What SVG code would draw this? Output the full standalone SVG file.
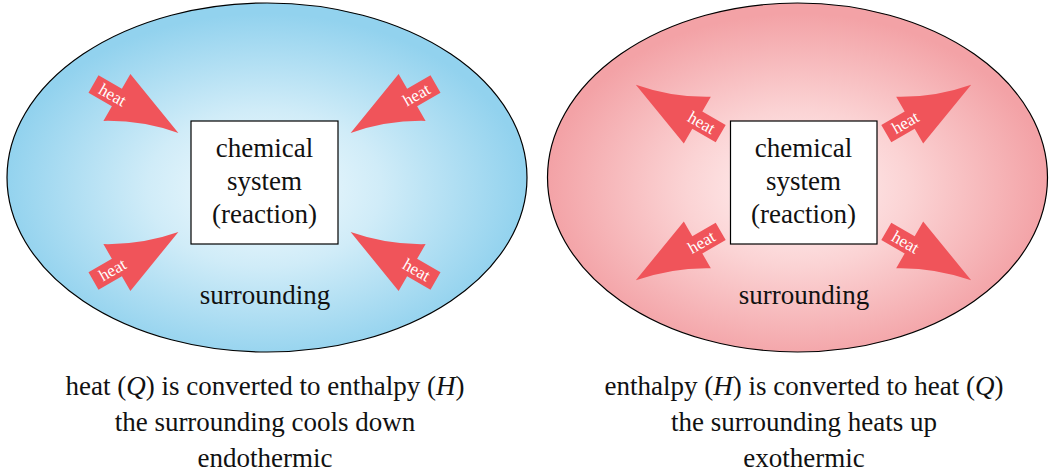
<svg xmlns="http://www.w3.org/2000/svg" width="1050" height="474" viewBox="0 0 1050 474">
<defs>
<radialGradient id="gBlue" cx="0.495" cy="0.53" r="0.5">
<stop offset="0" stop-color="#f4fbfe"/>
<stop offset="0.45" stop-color="#d0ecf8"/>
<stop offset="1" stop-color="#92d2ee"/>
</radialGradient>
<radialGradient id="gRed" cx="0.5" cy="0.53" r="0.5">
<stop offset="0" stop-color="#fff4f4"/>
<stop offset="0.45" stop-color="#fbd3d4"/>
<stop offset="1" stop-color="#f3a2a6"/>
</radialGradient>
<path id="arrow" d="M0,-10 L27,-10 L27,-27 L98,0 Q60,7 27,27 L27,10 L0,10 Z"/>
</defs>
<style>
.ell{stroke:#000;stroke-width:1.2}
.box{fill:#fff;stroke:#000;stroke-width:1.2}
.arr{fill:#f0545a}
.t{font-family:"Liberation Serif","DejaVu Serif",serif;font-size:27px;fill:#111;text-anchor:middle}
.h{font-family:"Liberation Serif","DejaVu Serif",serif;font-size:17px;fill:#fff;text-anchor:middle}
.i{font-style:italic}
</style>

<g id="left-surrounding">
<ellipse class="ell" cx="267" cy="177.5" rx="260" ry="174.5" fill="url(#gBlue)"/>
<text class="t" x="265" y="304">surrounding</text>
</g>
<g id="right-surrounding">
<ellipse class="ell" cx="797.5" cy="177.5" rx="250" ry="174.5" fill="url(#gRed)"/>
<text class="t" x="804" y="304">surrounding</text>
</g>

<g id="connectors">
<g id="left-arrows">
<use href="#arrow" class="arr" transform="translate(93.5,84) rotate(30)"/>
<use href="#arrow" class="arr" transform="translate(435.5,84) rotate(150) scale(1,-1)"/>
<use href="#arrow" class="arr" transform="translate(93.5,281) rotate(-30) scale(1,-1)"/>
<use href="#arrow" class="arr" transform="translate(435.5,281) rotate(210)"/>
<text class="h" transform="translate(112.5,95) rotate(30)" x="0" y="5.5">heat</text>
<text class="h" transform="translate(416.5,95) rotate(-30)" x="0" y="5.5">heat</text>
<text class="h" transform="translate(112.5,270) rotate(-30)" x="0" y="5.5">heat</text>
<text class="h" transform="translate(416.5,270) rotate(30)" x="0" y="5.5">heat</text>
</g>
<g id="right-arrows">
<use href="#arrow" class="arr" transform="translate(720.7,133.7) rotate(210)"/>
<use href="#arrow" class="arr" transform="translate(886.3,133.7) rotate(-30) scale(1,-1)"/>
<use href="#arrow" class="arr" transform="translate(720.7,231.3) rotate(150) scale(1,-1)"/>
<use href="#arrow" class="arr" transform="translate(886.3,231.3) rotate(30)"/>
<text class="h" transform="translate(701.6,122.7) rotate(30)" x="0" y="5.5">heat</text>
<text class="h" transform="translate(905.4,122.7) rotate(-30)" x="0" y="5.5">heat</text>
<text class="h" transform="translate(701.6,242.3) rotate(-30)" x="0" y="5.5">heat</text>
<text class="h" transform="translate(905.4,242.3) rotate(30)" x="0" y="5.5">heat</text>
</g>
</g>

<g id="left-system">
<rect class="box" x="191" y="121" width="147" height="123"/>
<text class="t" x="264.5" y="157">chemical</text>
<text class="t" x="264.5" y="190">system</text>
<text class="t" x="264.5" y="223">(reaction)</text>
</g>
<g id="right-system">
<rect class="box" x="730.5" y="121" width="146.5" height="123"/>
<text class="t" x="803.5" y="157">chemical</text>
<text class="t" x="803.5" y="190">system</text>
<text class="t" x="803.5" y="223">(reaction)</text>
</g>

<g id="left-caption">
<text class="t" x="265" y="395">heat (<tspan class="i">Q</tspan>) is converted to enthalpy (<tspan class="i">H</tspan>)</text>
<text class="t" x="265" y="431">the surrounding cools down</text>
<text class="t" x="265" y="467">endothermic</text>
</g>
<g id="right-caption">
<text class="t" x="804" y="395">enthalpy (<tspan class="i">H</tspan>) is converted to heat (<tspan class="i">Q</tspan>)</text>
<text class="t" x="804" y="431">the surrounding heats up</text>
<text class="t" x="804" y="467">exothermic</text>
</g>
</svg>
